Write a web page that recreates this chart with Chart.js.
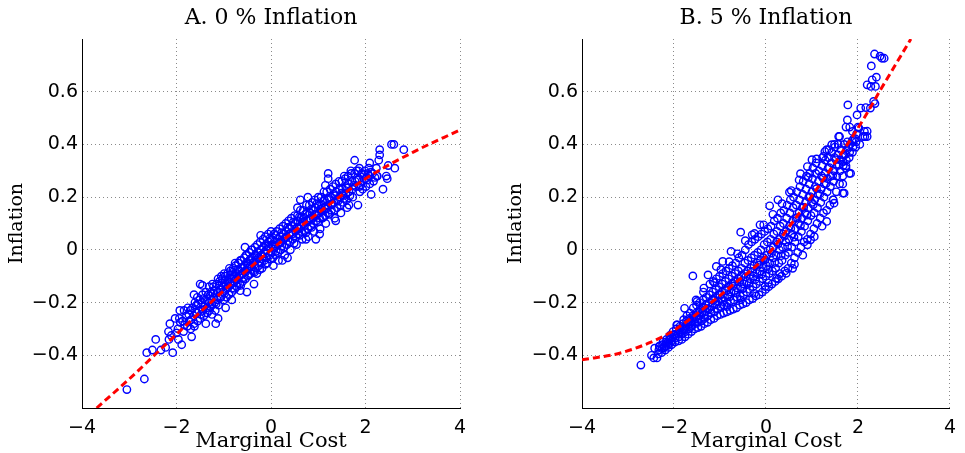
<!DOCTYPE html>
<html>
<head>
<meta charset="utf-8">
<title>Marginal cost and inflation</title>
<script src="https://cdn.jsdelivr.net/npm/chart.js@4.4.0/dist/chart.umd.min.js"></script>
<style>
  body { margin: 0; background: #fff; }
  canvas { position: absolute; top: 0; }
  #chartA { left: 0; }
  #chartB { left: 482px; }
</style>
</head>
<body>
<canvas id="chartA" width="482" height="453"></canvas>
<canvas id="chartB" width="483" height="453"></canvas>
<script>
// panel titles and axis names
var panelTitles = ['A. 0 % Inflation', 'B. 5 % Inflation']
var xName = 'Marginal Cost'
var yName = 'Inflation'

// tick values
var xTicks = [-4, -2, 0, 2, 4]
var yTicks = [-0.6, -0.4, -0.2, 0, 0.2, 0.4, 0.6, 0.8]

// fitted curves [marginal cost, inflation]
var fitA = [[-3.69,-0.6],[-3,-0.49],[-2,-0.32],[-1,-0.155],[0,0],[1,0.14],[2,0.27],[3,0.37],[4,0.455]]
var fitB = [[-4,-0.417],[-3.2,-0.393],[-2.5,-0.35],[-2,-0.305],[-1.3,-0.215],[-0.7,-0.13],[0,-0.025],[0.6,0.11],[1.3,0.28],[2.1,0.49],[2.5,0.61],[3.15,0.8]]

// simulated points, panel A (0 % inflation)
var scatterA = [
  [-3.05,-0.53],[-2.68,-0.49],[-2.63,-0.39],[-2.51,-0.38],[-2.44,-0.34],[-2.33,-0.38],[-2.23,-0.37],
  [-2.17,-0.31],[-2.16,-0.34],[-2.14,-0.28],[-2.08,-0.39],[-2.03,-0.26],[-1.96,-0.34],[-1.93,-0.23],
  [-1.89,-0.36],[-1.68,-0.33],[-1.63,-0.17],[-1.62,-0.29],[-1.50,-0.13],[-1.38,-0.28],[-1.17,-0.28],
  [-1.12,-0.26],[-0.96,-0.22],[-0.51,-0.16],[-0.36,-0.13],[0.24,-0.04],
  [-1.97,-0.30],[-1.94,-0.26],[-1.87,-0.27],[-1.85,-0.31],[-1.84,-0.23],[-1.79,-0.25],[-1.77,-0.29],
  [-1.76,-0.22],[-1.73,-0.27],[-1.71,-0.23],[-1.70,-0.30],[-1.66,-0.22],[-1.64,-0.25],[-1.63,-0.28],
  [-1.61,-0.20],[-1.58,-0.21],[-1.57,-0.24],[-1.55,-0.27],[-1.56,-0.18],[-1.53,-0.23],[-1.51,-0.19],
  [-1.50,-0.26],[-1.46,-0.20],[-1.45,-0.17],[-1.44,-0.23],[-1.42,-0.25],[-1.39,-0.19],[-1.38,-0.16],
  [-1.36,-0.22],[-1.35,-0.24],[-1.33,-0.17],[-1.32,-0.20],[-1.31,-0.14],[-1.30,-0.23],[-1.27,-0.16],
  [-1.26,-0.19],[-1.25,-0.21],[-1.24,-0.13],[-1.22,-0.14],[-1.21,-0.18],[-1.19,-0.20],[-1.18,-0.23],
  [-1.15,-0.13],[-1.14,-0.16],[-1.13,-0.19],[-1.12,-0.11],[-1.11,-0.21],[-1.09,-0.12],[-1.08,-0.15],
  [-1.06,-0.18],[-1.05,-0.10],[-1.03,-0.11],[-1.02,-0.14],[-1.01,-0.16],[-1.00,-0.19],[-0.99,-0.09],
  [-0.97,-0.10],[-0.96,-0.13],[-0.95,-0.15],[-0.94,-0.18],[-0.92,-0.09],[-0.91,-0.12],[-0.90,-0.14],
  [-0.89,-0.17],[-0.88,-0.07],[-0.86,-0.08],[-0.85,-0.11],[-0.84,-0.13],[-0.83,-0.16],[-0.80,-0.07],
  [-0.79,-0.10],[-0.78,-0.12],[-0.77,-0.15],[-0.76,-0.05],[-0.75,-0.06],[-0.74,-0.09],[-0.73,-0.11],
  [-0.72,-0.14],[-0.69,-0.05],[-0.68,-0.08],[-0.67,-0.10],[-0.66,-0.13],[-0.65,-0.04],[-0.63,-0.04],
  [-0.62,-0.07],[-0.61,-0.09],[-0.60,-0.12],[-0.57,-0.03],[-0.56,-0.06],[-0.55,-0.08],[-0.54,-0.11],
  [-0.53,-0.02],[-0.52,-0.02],[-0.51,-0.05],[-0.50,-0.07],[-0.49,-0.10],[-0.46,-0.01],[-0.45,-0.04],
  [-0.44,-0.06],[-0.43,-0.09],[-0.42,0.00],[-0.40,0.00],[-0.39,-0.03],[-0.38,-0.05],[-0.37,-0.08],
  [-0.34,0.01],[-0.33,-0.02],[-0.32,-0.04],[-0.31,-0.07],[-0.30,-0.09],[-0.29,0.02],[-0.28,-0.01],
  [-0.27,-0.03],[-0.26,-0.06],[-0.23,0.03],[-0.22,0.00],[-0.21,-0.02],[-0.20,-0.05],[-0.19,-0.07],
  [-0.17,0.04],[-0.16,0.01],[-0.15,-0.01],[-0.14,-0.04],[-0.12,0.05],[-0.11,0.02],[-0.10,0.00],
  [-0.09,-0.03],[-0.08,-0.05],[-0.06,0.06],[-0.05,0.03],[-0.04,0.01],[-0.03,-0.02],[0.00,0.07],
  [0.01,0.04],[0.02,0.02],[0.03,-0.01],[0.04,-0.03],
  [0.06,0.06],[0.07,0.03],[0.08,0.01],[0.09,-0.02],[0.12,0.07],[0.13,0.04],[0.14,0.02],[0.15,-0.01],
  [0.16,-0.04],[0.18,0.08],[0.19,0.05],[0.20,0.03],[0.21,0.00],[0.25,0.09],[0.26,0.06],[0.27,0.04],
  [0.28,0.01],[0.29,-0.02],[0.31,0.10],[0.32,0.07],[0.33,0.05],[0.34,0.02],[0.37,0.11],[0.38,0.08],
  [0.39,0.06],[0.40,0.03],[0.41,0.00],[0.43,0.12],[0.44,0.09],[0.45,0.06],[0.46,0.04],[0.50,0.13],
  [0.51,0.10],[0.52,0.07],[0.53,0.05],[0.54,0.02],[0.56,0.13],[0.57,0.11],[0.58,0.08],[0.59,0.06],
  [0.62,0.15],[0.63,0.12],[0.64,0.09],[0.65,0.07],[0.66,0.04],[0.68,0.15],[0.69,0.12],[0.70,0.10],
  [0.71,0.07],[0.75,0.17],[0.76,0.14],[0.77,0.11],[0.78,0.08],[0.79,0.05],[0.81,0.17],[0.82,0.14],
  [0.83,0.12],[0.84,0.09],[0.87,0.18],[0.88,0.15],[0.89,0.12],[0.90,0.10],[0.91,0.07],[0.93,0.19],
  [0.94,0.16],[0.95,0.13],[0.96,0.11],[1.00,0.20],[1.01,0.17],[1.02,0.14],[1.03,0.12],[1.04,0.08],
  [1.06,0.20],[1.07,0.17],[1.08,0.15],[1.09,0.12],[1.12,0.22],[1.13,0.19],[1.14,0.16],[1.15,0.13],
  [1.16,0.10],[1.18,0.22],[1.19,0.19],[1.20,0.17],[1.21,0.14],[1.25,0.23],[1.26,0.20],[1.27,0.17],
  [1.28,0.15],[1.31,0.24],[1.32,0.21],[1.33,0.18],[1.34,0.15],[1.35,0.12],[1.37,0.25],[1.38,0.22],
  [1.39,0.19],[1.40,0.16],[1.44,0.26],[1.45,0.23],[1.46,0.20],[1.47,0.17],[1.48,0.14],[1.50,0.26],
  [1.51,0.23],[1.52,0.21],[1.53,0.18],[1.57,0.27],[1.58,0.24],[1.59,0.21],[1.60,0.19],[1.61,0.16],
  [1.63,0.28],[1.64,0.25],[1.65,0.22],[1.70,0.29],[1.71,0.26],[1.72,0.23],[1.73,0.20],[1.77,0.29],
  [1.78,0.26],[1.79,0.24],[1.85,0.30],[1.86,0.27],[1.87,0.24],[1.88,0.22],[1.92,0.29],[1.93,0.26],
  [1.94,0.23],[1.99,0.30],[2.00,0.27],[2.01,0.24],[2.07,0.31],[2.08,0.28],[2.09,0.25],[2.15,0.29],
  [2.17,0.26],[2.23,0.31],[2.25,0.28],
  [2.55,0.40],[2.60,0.40],[2.81,0.38],[2.30,0.38],[2.30,0.36],[2.28,0.34],[2.09,0.33],[1.77,0.34],
  [2.48,0.32],[2.62,0.31],[2.46,0.27],[2.37,0.23],[2.12,0.21],[1.81,0.30],[1.87,0.31],[1.69,0.30],
  [2.05,0.29],[1.21,0.29],[1.21,0.27],[1.84,0.17],[1.65,0.17],[1.37,0.11],[0.78,0.20],[0.56,0.16],
  [1.03,0.06],[0.74,0.04],[2.24,0.28],[2.44,0.28],
  [-1.83,-0.285],[-1.74,-0.245],[-1.69,-0.265],[-1.60,-0.235],[-1.54,-0.205],[-1.48,-0.245],[-1.43,-0.185],
  [-1.41,-0.215],[-1.34,-0.195],[-1.29,-0.175],[-1.28,-0.215],[-1.23,-0.165],[-1.20,-0.155],[-1.16,-0.205],
  [-1.10,-0.135],[-1.07,-0.175],[-1.04,-0.125],[-0.98,-0.165],[-0.97,-0.115],[-0.93,-0.145],[-0.87,-0.125],
  [-0.86,-0.095],[-0.82,-0.145],[-0.81,-0.085],[-0.77,-0.105],[-0.71,-0.125],[-0.70,-0.075],[-0.66,-0.095],
  [-0.64,-0.135],[-0.59,-0.065],[-0.58,-0.105],[-0.54,-0.085],[-0.48,-0.055],[-0.47,-0.095],[-0.44,-0.035],
  [-0.41,-0.065],[-0.36,-0.045],[-0.35,-0.085],[-0.30,-0.025],[-0.25,-0.045],[-0.24,-0.075],[-0.18,-0.025],
  [-0.13,-0.015],[-0.12,-0.055],[-0.07,0.015],[-0.02,0.045],[-0.01,-0.035],[0.05,0.015],[0.10,0.055],
  [0.11,-0.005],[0.17,0.025],[0.22,0.065],[0.23,0.015],[0.30,0.045],[0.35,0.085],[0.36,0.035],[0.42,0.065],
  [0.47,0.105],[0.49,0.025],[0.55,0.085],[0.60,0.125],[0.61,0.055],[0.67,0.105],[0.72,0.135],[0.74,0.065],
  [0.80,0.115],[0.85,0.155],[0.86,0.085],[0.92,0.135],[0.97,0.175],[0.99,0.105],[1.05,0.155],[1.10,0.185],
  [1.11,0.125],[1.17,0.155],[1.23,0.195],[1.24,0.135],[1.30,0.175],[1.36,0.205],[1.42,0.185],[1.49,0.215],
  [1.55,0.195],[1.62,0.235],[1.67,0.205],[1.75,0.245],[1.82,0.265],[1.90,0.245],[1.97,0.285],[2.04,0.265],
  [2.12,0.295],[2.20,0.275],[-2.00,-0.315],[-2.11,-0.325],[-1.92,-0.275],
  [-1.25,-0.245],[-0.83,-0.19],[-0.55,0.01],[-0.22,0.055],[0.35,-0.03],[0.62,0.19],[0.95,0.04],
  [1.15,0.245],[-0.65,-0.155],[0.05,-0.06],[-1.45,-0.135],[1.55,0.28]
]

// simulated points, panel B (5 % inflation)
var scatterB = [
  [-2.72,-0.437],[-2.49,-0.40],[-2.44,-0.41],[-2.37,-0.41],[-2.42,-0.373],[-2.31,-0.367],[-2.21,-0.367],
  [-2.12,-0.36],[-1.93,-0.285],[-1.77,-0.222],[-1.59,-0.099],[-1.50,-0.196],[-1.26,-0.095],[-1.08,-0.063],
  [-0.94,-0.044],[-0.76,-0.006],[-0.55,0.067],[-0.30,0.057],[-0.13,0.095],[0.08,0.167],[0.26,0.19],
  [0.51,0.219],[0.75,0.289],[0.90,0.316],[1.00,0.342],[1.28,0.373],[1.43,0.399],[1.58,0.43],
  [0.90,0.019],[0.97,0.038],[0.58,-0.07],[0.44,-0.089],[0.23,-0.108],[-0.02,-0.139],[1.32,0.108],
  [1.46,0.19],[1.48,0.177],[1.67,0.215],[1.81,0.29],[1.74,0.319],[1.67,0.335],
  [2.36,0.743],[2.52,0.727],[2.57,0.727],[2.48,0.735],[2.29,0.698],[2.40,0.655],[2.31,0.645],[2.20,0.626],
  [2.38,0.62],[2.28,0.62],[1.78,0.55],[2.06,0.538],[2.17,0.54],[1.98,0.512],[1.77,0.493],[1.74,0.466],
  [1.82,0.466],[2.00,0.466],[2.14,0.449],[2.20,0.43],[2.11,0.43],[2.04,0.40],[1.60,0.43],[1.49,0.40],
  [1.32,0.38],[1.84,0.29],[1.67,0.25],[1.70,0.215],[2.34,0.563],[2.27,0.538],[2.37,0.555],[2.02,0.462],
  [1.88,0.449],[2.15,0.43],[2.20,0.45],
  [-2.34,-0.395],[-2.33,-0.38],[-2.32,-0.365],[-2.27,-0.39],[-2.26,-0.375],[-2.25,-0.36],[-2.24,-0.35],
  [-2.19,-0.38],[-2.18,-0.365],[-2.17,-0.35],[-2.16,-0.34],[-2.12,-0.37],[-2.11,-0.355],[-2.10,-0.34],
  [-2.09,-0.325],[-2.05,-0.36],[-2.04,-0.345],[-2.03,-0.33],[-2.02,-0.31],[-1.98,-0.35],[-1.97,-0.335],
  [-1.96,-0.32],[-1.95,-0.30],[-1.94,-0.285],[-1.90,-0.345],[-1.89,-0.33],[-1.88,-0.31],[-1.87,-0.29],
  [-1.83,-0.34],[-1.82,-0.32],[-1.81,-0.30],[-1.80,-0.28],[-1.79,-0.265],[-1.76,-0.33],[-1.75,-0.31],
  [-1.74,-0.29],[-1.73,-0.27],[-1.72,-0.25],[-1.69,-0.32],[-1.68,-0.30],[-1.67,-0.28],[-1.66,-0.26],
  [-1.65,-0.24],[-1.62,-0.31],[-1.61,-0.29],[-1.60,-0.27],[-1.59,-0.25],[-1.58,-0.22],[-1.55,-0.30],
  [-1.54,-0.28],[-1.53,-0.26],[-1.52,-0.24],[-1.51,-0.21],[-1.52,-0.19],[-1.48,-0.295],[-1.47,-0.275],
  [-1.46,-0.25],[-1.45,-0.23],[-1.44,-0.20],[-1.41,-0.29],[-1.40,-0.27],[-1.39,-0.24],[-1.38,-0.22],
  [-1.37,-0.19],[-1.36,-0.16],[-1.34,-0.28],[-1.33,-0.26],[-1.32,-0.235],[-1.31,-0.21],[-1.30,-0.18],
  [-1.27,-0.275],[-1.26,-0.25],[-1.25,-0.225],[-1.24,-0.20],[-1.23,-0.17],[-1.22,-0.13],[-1.20,-0.265],
  [-1.19,-0.24],[-1.18,-0.215],[-1.17,-0.19],[-1.16,-0.16],[-1.15,-0.12],[-1.13,-0.26],[-1.12,-0.235],
  [-1.11,-0.205],[-1.10,-0.18],[-1.09,-0.15],[-1.08,-0.11],[-1.06,-0.25],[-1.05,-0.225],[-1.04,-0.195],
  [-1.03,-0.17],[-1.02,-0.14],[-1.01,-0.10],[-0.99,-0.245],[-0.98,-0.215],[-0.97,-0.185],[-0.96,-0.16],
  [-0.95,-0.13],[-0.94,-0.09],[-0.92,-0.24],[-0.91,-0.21],[-0.90,-0.18],[-0.89,-0.15],[-0.88,-0.12],
  [-0.87,-0.08],[-0.85,-0.235],[-0.84,-0.20],[-0.83,-0.17],[-0.82,-0.14],[-0.81,-0.11],[-0.80,-0.07],
  [-0.78,-0.23],[-0.77,-0.195],[-0.76,-0.16],[-0.75,-0.13],[-0.74,-0.10],[-0.73,-0.06],[-0.71,-0.225],
  [-0.70,-0.19],[-0.69,-0.155],[-0.68,-0.12],[-0.67,-0.09],[-0.66,-0.05],[-0.64,-0.22],[-0.63,-0.18],
  [-0.62,-0.145],[-0.61,-0.11],[-0.60,-0.08],[-0.59,-0.03],[-0.57,-0.21],[-0.56,-0.175],[-0.55,-0.14],
  [-0.54,-0.10],[-0.53,-0.07],[-0.52,-0.02],[-0.50,-0.205],[-0.49,-0.17],[-0.48,-0.13],[-0.47,-0.09],
  [-0.46,-0.05],[-0.45,0.00],[-0.43,-0.20],[-0.42,-0.16],[-0.41,-0.12],[-0.40,-0.08],[-0.39,-0.04],
  [-0.38,0.02],[-0.36,-0.19],[-0.35,-0.15],[-0.34,-0.11],[-0.33,-0.07],[-0.32,-0.03],[-0.31,0.03],
  [-0.29,-0.185],[-0.28,-0.14],[-0.27,-0.10],[-0.26,-0.06],[-0.25,-0.02],[-0.24,0.04],[-0.22,-0.175],
  [-0.21,-0.13],[-0.20,-0.09],[-0.19,-0.05],[-0.18,-0.01],[-0.17,0.05],[-0.15,-0.17],[-0.14,-0.12],
  [-0.13,-0.08],[-0.12,-0.04],[-0.11,0.00],[-0.10,0.06],[-0.08,-0.16],[-0.07,-0.11],[-0.06,-0.07],
  [-0.05,-0.03],[-0.04,0.02],[-0.03,0.07],[-0.01,-0.15],[0.00,-0.10],[0.01,-0.06],[0.02,-0.02],
  [0.03,0.03],[0.04,0.08],[0.06,-0.14],[0.07,-0.09],[0.08,-0.05],[0.09,0.00],[0.10,0.04],[0.11,0.09],
  [0.13,-0.13],[0.14,-0.08],[0.15,-0.03],[0.16,0.01],[0.17,0.06],[0.18,0.11],[0.20,-0.12],[0.21,-0.07],
  [0.22,-0.02],[0.23,0.03],[0.24,0.07],[0.25,0.12],[0.27,-0.11],[0.28,-0.05],[0.29,0.00],[0.30,0.04],
  [0.31,0.09],[0.32,0.14],[0.34,-0.10],[0.35,-0.04],[0.36,0.01],[0.37,0.06],[0.38,0.10],[0.39,0.15],
  [0.41,-0.08],[0.42,-0.02],[0.43,0.03],[0.44,0.07],[0.45,0.12],[0.46,0.17],[0.48,-0.07],[0.49,-0.01],
  [0.50,0.04],[0.51,0.09],[0.52,0.14],[0.53,0.19],[0.55,-0.05],[0.56,0.01],[0.57,0.06],[0.58,0.11],
  [0.59,0.16],[0.60,0.20],[0.62,-0.03],[0.63,0.03],[0.64,0.08],[0.65,0.12],[0.66,0.17],[0.67,0.22],
  [0.69,-0.01],[0.70,0.05],[0.71,0.10],[0.72,0.14],[0.73,0.19],[0.74,0.24],[0.76,0.01],[0.77,0.07],
  [0.78,0.12],[0.79,0.16],[0.80,0.21],[0.81,0.26],[0.83,0.03],[0.84,0.09],[0.85,0.14],[0.86,0.18],
  [0.87,0.23],[0.88,0.28],[0.90,0.04],[0.91,0.11],[0.92,0.16],[0.93,0.20],[0.94,0.25],[0.95,0.29],
  [0.97,0.06],[0.98,0.13],[0.99,0.18],[1.00,0.22],[1.01,0.27],[1.02,0.31],[1.04,0.08],[1.05,0.14],
  [1.06,0.19],[1.07,0.24],[1.08,0.29],[1.09,0.33],[1.11,0.10],[1.12,0.16],[1.13,0.21],[1.14,0.26],
  [1.15,0.30],[1.18,0.12],[1.19,0.18],[1.20,0.23],[1.21,0.28],[1.22,0.32],[1.23,0.35],[1.25,0.14],
  [1.26,0.20],[1.27,0.25],[1.28,0.29],[1.29,0.34],[1.32,0.15],[1.33,0.22],[1.34,0.27],[1.35,0.31],
  [1.36,0.35],[1.37,0.38],[1.39,0.17],[1.40,0.24],[1.41,0.28],[1.42,0.33],[1.43,0.37],[1.46,0.19],
  [1.47,0.26],[1.48,0.30],[1.49,0.35],[1.50,0.39],[1.53,0.22],[1.54,0.28],[1.55,0.32],[1.56,0.36],
  [1.57,0.40],[1.60,0.25],[1.61,0.30],[1.62,0.34],[1.63,0.38],[1.67,0.28],[1.68,0.32],[1.69,0.36],
  [1.70,0.40],[1.74,0.31],[1.75,0.34],[1.76,0.38],[1.77,0.41],[1.81,0.35],[1.82,0.37],[1.83,0.40],
  [1.88,0.37],[1.89,0.39],[1.90,0.42],[1.95,0.39],[1.96,0.41],[1.97,0.44],
  [-2.22,-0.372],[-2.14,-0.352],[-2.07,-0.338],[-2.00,-0.322],[-1.92,-0.318],[-1.86,-0.298],[-1.78,-0.302],
  [-1.71,-0.278],[-1.64,-0.272],[-1.57,-0.255],[-1.49,-0.262],[-1.43,-0.236],[-1.35,-0.248],[-1.29,-0.222],
  [-1.21,-0.228],[-1.14,-0.192],[-1.07,-0.208],[-1.00,-0.172],[-0.93,-0.196],[-0.86,-0.155],[-0.79,-0.178],
  [-0.72,-0.138],[-0.65,-0.162],[-0.58,-0.122],[-0.51,-0.148],[-0.44,-0.102],[-0.37,-0.128],[-0.30,-0.082],
  [-0.23,-0.112],[-0.16,-0.058],[-0.09,-0.092],[-0.02,-0.038],[0.05,-0.072],[0.12,-0.012],[0.19,-0.048],
  [0.26,0.022],[0.33,-0.022],[0.40,0.052],[0.47,0.012],[0.54,0.082],[0.61,0.048],[0.68,0.122],[0.75,0.092],
  [0.82,0.162],[0.89,0.132],[0.96,0.202],[1.03,0.172],[1.10,0.232],[1.17,0.212],[1.24,0.272],[1.31,0.252],
  [1.38,0.312],[1.45,0.282],[1.52,0.342],[1.59,0.322],[1.66,0.352],[1.73,0.362],[1.80,0.392],[1.87,0.412],
  [1.94,0.422],
  [-1.35,-0.145],[-1.12,-0.125],[-0.98,-0.075],[-0.80,-0.045],[-0.62,-0.015],[-0.45,0.035],[-0.25,0.062],
  [-0.05,0.095],[0.15,0.135],[0.35,0.175],[0.55,0.225],[0.72,0.265],[0.92,0.275],[1.10,0.345],[1.25,0.355],
  [0.62,-0.055],[0.80,-0.02],[1.05,0.05],[1.22,0.09],[0.30,-0.09],[0.05,-0.125],[-0.25,-0.165],[-0.55,-0.19],
  [-0.85,-0.215]
]

function yLabel(v) {
  var r = Math.round(v * 10) / 10
  if (r === -0.6 || r === 0.8) return ''
  if (r === 0) return '0'
  return String(r).replace('-', '\u2212')
}

function xLabel(v) {
  return String(v).replace('-', '\u2212')
}

function hiddenLine(axis, v) {
  var r = Math.round(v * 10) / 10
  if (axis === 'x') return r === xTicks[0]
  return r === yTicks[0] || r === yTicks[yTicks.length - 1]
}

function makeChart(id, title, points, fit, yAxisWidth, yTitlePad, rightPad) {
  var ctx = document.getElementById(id)
  return new Chart(ctx, {
    type: 'scatter',
    data: {
      datasets: [
        {
          type: 'line',
          data: fit,
          borderColor: '#ff0000',
          borderWidth: 3,
          borderDash: [7, 4],
          pointRadius: 0,
          fill: false,
          cubicInterpolationMode: 'monotone'
        },
        {
          data: points,
          pointStyle: 'circle',
          pointRadius: 3.7,
          borderWidth: 1.4,
          borderColor: '#0000ff',
          backgroundColor: 'rgba(0,0,0,0)'
        }
      ]
    },
    options: {
      responsive: false,
      animation: false,
      devicePixelRatio: 1,
      layout: { padding: { left: 0, top: 0, bottom: 0, right: rightPad } },
      plugins: {
        legend: { display: false },
        tooltip: { enabled: false },
        title: {
          display: true,
          fullSize: false,
          text: title,
          color: '#000',
          font: { family: 'DejaVu Serif', size: 22, weight: 'normal' },
          padding: { top: 5, bottom: 7.6 }
        }
      },
      scales: {
        x: {
          type: 'linear',
          min: xTicks[0],
          max: xTicks[xTicks.length - 1],
          afterFit: function(scale) { scale.height = 45 },
          afterBuildTicks: function(scale) { scale.ticks = xTicks.map(function(v) { return {value: v} }) },
          ticks: {
            color: '#000',
            padding: 9,
            font: { family: 'DejaVu Sans', size: 19 },
            callback: function(v) { return xLabel(v) }
          },
          grid: {
            drawTicks: false,
            lineWidth: 1,
            color: function(c) { return hiddenLine('x', c.tick.value) ? 'rgba(0,0,0,0)' : '#8a8a8a' }
          },
          border: { display: true, color: '#000', width: 1, dash: [1, 3] },
          title: {
            display: true,
            text: xName,
            color: '#000',
            font: { family: 'DejaVu Serif', size: 21, lineHeight: 1.1 },
            padding: { top: 0, bottom: 0 }
          }
        },
        y: {
          type: 'linear',
          min: yTicks[0],
          max: yTicks[yTicks.length - 1],
          afterFit: function(scale) { scale.width = yAxisWidth },
          afterBuildTicks: function(scale) { scale.ticks = yTicks.map(function(v) { return {value: v} }) },
          ticks: {
            color: '#000',
            padding: 4,
            font: { family: 'DejaVu Sans', size: 19 },
            callback: function(v) { return yLabel(v) }
          },
          grid: {
            drawTicks: false,
            lineWidth: 1,
            color: function(c) { return hiddenLine('y', c.tick.value) ? 'rgba(0,0,0,0)' : '#8a8a8a' }
          },
          border: { display: true, color: '#000', width: 1, dash: [1, 3] },
          title: {
            display: true,
            text: yName,
            color: '#000',
            font: { family: 'DejaVu Serif', size: 19 },
            padding: { top: yTitlePad, bottom: 0 }
          }
        }
      }
    }
  })
}

makeChart('chartA', panelTitles[0], scatterA, fitA, 82, 6, 22)
makeChart('chartB', panelTitles[1], scatterB, fitB, 100, 23, 5)
</script>
</body>
</html>
